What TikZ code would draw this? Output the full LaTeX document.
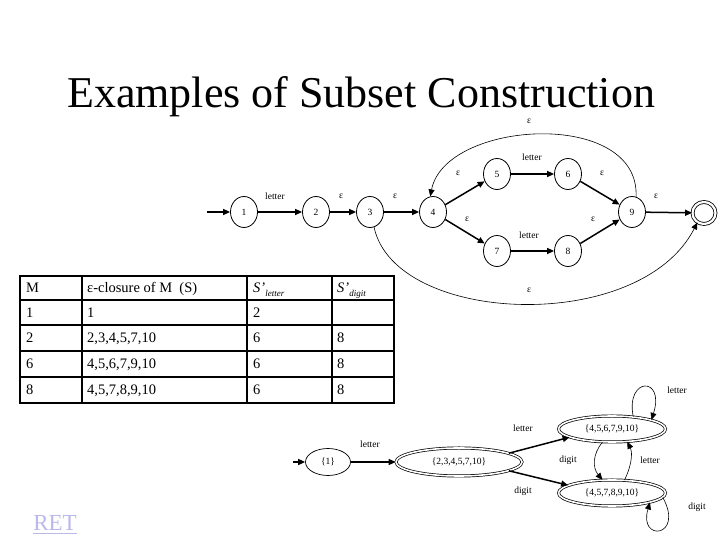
\documentclass[tikz,border=0pt]{standalone}
\usepackage{fontspec}
\setmainfont{Liberation Serif}
\usetikzlibrary{shapes.geometric,arrows.meta}
\definecolor{retc}{RGB}{185,185,235}
\begin{document}
\begin{tikzpicture}[x=1pt,y=1pt,
 st/.style={ellipse,draw,line width=0.8pt,minimum width=27pt,minimum height=31pt,inner sep=0pt,font=\fontsize{9.5}{9.5}\selectfont},
 acc/.style={ellipse,draw,line width=0.8pt,double,double distance=2.2pt,minimum width=23pt,minimum height=22pt,inner sep=0pt},
 dst/.style={ellipse,draw,line width=0.7pt,inner sep=0pt,font=\fontsize{9.5}{9.5}\selectfont},
 dd/.style={dst,double,double distance=1.6pt},
 ar/.style={line width=1.5pt,-{Triangle[length=7pt,width=6pt]}},
 thinar/.style={line width=0.6pt,-{Triangle[length=7pt,width=6pt]}},
 lab/.style={inner sep=0pt,font=\fontsize{9.5}{9.5}\selectfont},
 cell/.style={anchor=base west,inner sep=0pt,font=\fontsize{14.5}{14.5}\selectfont},
 tl/.style={line width=1.5pt}]
\useasboundingbox (0,0) rectangle (720,540);

% title
\node[anchor=base west,inner sep=0pt,font=\fontsize{44}{44}\selectfont] (title) at (67,432) {Examples of Subset Construction};

% NFA
\coordinate (s0) at (207,328);
\node[st] (n1) at (244,328) {1};
\node[st] (n2) at (316,328) {2};
\node[st] (n3) at (370,328) {3};
\node[st] (n4) at (433,328) {4};
\node[st] (n5) at (497,366) {5};
\node[st] (n6) at (568,366) {6};
\node[st] (n7) at (497,289) {7};
\node[st] (n8) at (568,289) {8};
\node[st] (n9) at (632,328) {9};
\node[acc] (n10) at (704,327) {};

\draw[ar] (s0) -- (n1);
\draw[ar] (n1) -- (n2);
\draw[ar] (n2) -- (n3);
\draw[ar] (n3) -- (n4);
\draw[ar] (n4) -- (n5);
\draw[ar] (n4) -- (n7);
\draw[ar] (n5) -- (n6);
\draw[ar] (n7) -- (n8);
\draw[ar] (n6) -- (n9);
\draw[ar] (n8) -- (n9);
\draw[ar] (n9) -- (n10);
\draw[thinar] (n9.75) .. controls (640,432) and (445,420) .. (n4.100);
\draw[thinar] (n3.-75) .. controls (395,215) and (640,205) .. (n10.-125);

\node[lab] (l12) at (275,344) {letter};
\node[lab] (l23) at (341,344) {ε};
\node[lab] (l34) at (395,344) {ε};
\node[lab] (l45) at (458,367) {ε};
\node[lab] (l47) at (467,321) {ε};
\node[lab] (l56) at (532,383) {letter};
\node[lab] (l69) at (602,367) {ε};
\node[lab] (l89) at (593,321) {ε};
\node[lab] (l910) at (656,344) {ε};
\node[lab] (l78) at (529,305) {letter};
\node[lab] (ltop) at (529,419) {ε};
\node[lab] (lbot) at (529,250) {ε};

% table
\draw[tl] (20,264) rectangle (394,137);
\foreach \yy in {240,215,189,163} \draw[tl] (20,\yy) -- (394,\yy);
\foreach \xx in {82,247,332} \draw[tl] (\xx,264) -- (\xx,137);

\node[cell] (h1) at (26,247) {M};
\node[cell] (h2) at (87,247) {ε-closure of M\ \ (S)};
\node[cell] (h3) at (253,247) {{\itshape S’}\raisebox{-4pt}{\fontsize{9}{9}\selectfont\itshape letter}};
\node[cell] (h4) at (337,247) {{\itshape S’}\raisebox{-4pt}{\fontsize{9}{9}\selectfont\itshape digit}};

\node[cell] (a1) at (26,222.5) {1};
\node[cell] (a2) at (87,222.5) {1};
\node[cell] (a3) at (253,222.5) {2};
\node[cell] (b1) at (26,197) {2};
\node[cell] (b2) at (87,197) {2,3,4,5,7,10};
\node[cell] (b3) at (253,197) {6};
\node[cell] (b4) at (337,197) {8};
\node[cell] (c1) at (26,171) {6};
\node[cell] (c2) at (87,171) {4,5,6,7,9,10};
\node[cell] (c3) at (253,171) {6};
\node[cell] (c4) at (337,171) {8};
\node[cell] (e1) at (26,145) {8};
\node[cell] (e2) at (87,145) {4,5,7,8,9,10};
\node[cell] (e3) at (253,145) {6};
\node[cell] (e4) at (337,145) {8};

% DFA
\coordinate (ds) at (293,78);
\node[dst,minimum width=45pt,minimum height=27pt] (d1) at (328,78) {\{1\}};
\node[dd,minimum width=126pt,minimum height=28pt] (d2) at (459,78) {\{2,3,4,5,7,10\}};
\node[dd,minimum width=107pt,minimum height=26pt] (dU) at (612,111) {\{4,5,6,7,9,10\}};
\node[dd,minimum width=107pt,minimum height=26pt] (dL) at (612,47) {\{4,5,7,8,9,10\}};

\draw[ar] (ds) -- (d1);
\draw[ar] (d1) -- (d2);
\draw[ar] (d2.10) -- (dU.191);
\draw[ar] (d2.-10) -- (dL.170);
\draw[thinar] (dU.-126) .. controls +(-10,-12) and +(-10,12) .. (dL.126);
\draw[thinar] (dL.46) .. controls +(6,12) and +(6,-12) .. (dU.-40);
\draw[thinar] (dU.30) .. controls +(-8,40) and +(14,44) .. (dU.13);
\draw[thinar] (dL.-5) .. controls +(22,-40) and +(-12,-40) .. (dL.-14);

\node[lab] (m1) at (370,96) {letter};
\node[lab] (m2) at (523,112) {letter};
\node[lab] (m3) at (523,49) {digit};
\node[lab] (m4) at (568,80) {digit};
\node[lab] (m5) at (650,80) {letter};
\node[lab] (m6) at (677,150) {letter};
\node[lab] (m7) at (697,33) {digit};

% RET
\node[anchor=base,inner sep=0pt,text=retc,font=\fontsize{23}{23}\selectfont] (ret) at (55,9) {RET};
\draw[retc,line width=1.5pt] (ret.base west) ++(0,-2.5) -- ++(44,0);
\end{tikzpicture}
\end{document}
